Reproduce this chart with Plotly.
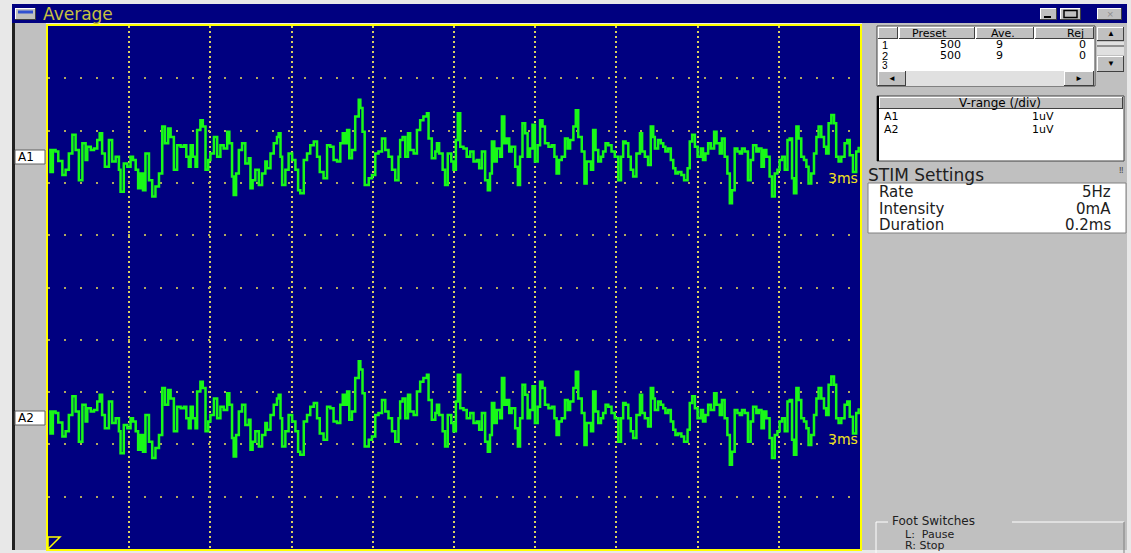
import plotly.graph_objects as go

# Sweep: 10 divisions of 3 ms, 1 uV/div, two averaged channels
t_ms = [
    0.04, 0.09, 0.18, 0.28, 0.38, 0.53, 0.65, 0.77, 0.90, 1.02, 1.14, 1.27, 1.39, 1.45, 1.58, 1.70,
    1.82, 1.91, 2.00, 2.10, 2.25, 2.37, 2.50, 2.62, 2.68, 2.80, 2.93, 3.05, 3.14, 3.24, 3.33, 3.42,
    3.51, 3.60, 3.73, 3.85, 3.97, 4.10, 4.22, 4.32, 4.44, 4.53, 4.65, 4.77, 4.90, 5.02, 5.11, 5.20,
    5.27, 5.35, 5.45, 5.51, 5.63, 5.72, 5.82, 5.92, 6.00, 6.13, 6.25, 6.37, 6.49, 6.62, 6.70, 6.80,
    6.86, 6.95, 7.05, 7.17, 7.29, 7.42, 7.48, 7.56, 7.66, 7.79, 7.91, 8.03, 8.09, 8.22, 8.34, 8.46,
    8.52, 8.59, 8.65, 8.77, 8.89, 9.02, 9.14, 9.24, 9.32, 9.45, 9.57, 9.69, 9.82, 9.94,
    10.04, 10.18, 10.31, 10.43, 10.55, 10.68, 10.80, 10.89, 10.96, 11.05, 11.13, 11.23, 11.35, 11.48,
    11.54, 11.62, 11.70, 11.85, 11.97, 12.09, 12.21, 12.34, 12.46, 12.58, 12.71, 12.83, 12.95, 13.01,
    13.10, 13.20, 13.30, 13.38, 13.51, 13.63, 13.75, 13.87, 14.00, 14.06, 14.18, 14.31, 14.37, 14.45,
    14.58, 14.67, 14.77, 14.90, 14.98, 15.07, 15.14, 15.23, 15.35, 15.47, 15.60, 15.72, 15.84, 15.93,
    16.03, 16.15, 16.25, 16.33, 16.40, 16.49, 16.58, 16.70, 16.77, 16.86, 16.95, 17.04, 17.13, 17.26,
    17.36, 17.44, 17.53, 17.63, 17.72, 17.81, 17.90, 17.99, 18.09, 18.18, 18.27, 18.36, 18.49, 18.61,
    18.71, 18.79, 18.88, 18.98, 19.10, 19.20, 19.29, 19.41, 19.50, 19.59, 19.72, 19.82, 19.90,
    20.06, 20.14, 20.23, 20.33, 20.43, 20.51, 20.60, 20.70, 20.82, 20.94, 21.07, 21.17, 21.25, 21.34,
    21.44, 21.53, 21.62, 21.74, 21.87, 21.95, 22.05, 22.17, 22.27, 22.36, 22.42, 22.54, 22.64, 22.73,
    22.81, 22.91, 23.01, 23.10, 23.18, 23.28, 23.40, 23.50, 23.63, 23.71, 23.80, 23.90, 24.00, 24.12,
    24.20, 24.29, 24.39, 24.49, 24.61, 24.70, 24.82, 24.90, 25.00, 25.10, 25.19, 25.27, 25.37, 25.47,
    25.56, 25.64, 25.74, 25.86, 25.96, 26.05, 26.17, 26.26, 26.36, 26.45, 26.54, 26.66, 26.75, 26.85,
    26.95, 27.03, 27.12, 27.22, 27.32, 27.40, 27.49, 27.56, 27.65, 27.73, 27.83, 27.93, 28.02, 28.10,
    28.20, 28.30, 28.39, 28.47, 28.57, 28.67, 28.75, 28.84, 28.94, 29.04, 29.12, 29.21, 29.31, 29.43,
    29.53, 29.62, 29.74, 29.86, 29.95,
]

a1_uv = [
    0.13, -0.29, 0.13, 0.10, -0.08, -0.35, -0.25, 0.06, 0.42, 0.13, -0.45, 0.26, -0.06, 0.19, 0.13, 0.16,
    0.32, 0.45, 0.06, -0.19, 0.32, -0.09, 0.00, -0.25, -0.67, -0.13, -0.19, 0.00, -0.06, -0.25, -0.60, -0.32,
    -0.64, 0.06, -0.45, -0.76, -0.57, -0.32, 0.58, 0.26, 0.54, 0.38, -0.25, 0.22, 0.19, 0.22, 0.00, -0.19,
    0.22, 0.00, -0.19, 0.51, 0.70, 0.58, -0.25, -0.06, 0.06, 0.38, 0.00, 0.22, 0.16, 0.48, 0.26, -0.38,
    -0.73, -0.32, 0.13, 0.26, -0.13, -0.03, -0.60, -0.45, -0.25, -0.54, -0.32, -0.09, -0.22, 0.06, 0.26, 0.38,
    0.45, 0.00, -0.54, -0.25, 0.06, -0.06, -0.25, -0.64, -0.70, -0.06, 0.06, 0.22, 0.29, 0.00,
    -0.29, -0.41, 0.22, 0.19, -0.06, -0.09, 0.26, 0.45, 0.26, 0.51, -0.03, 0.13, 0.77, 1.09,
    0.93, 0.48, -0.54, -0.41, -0.35, 0.06, 0.10, 0.35, 0.13, 0.00, -0.25, -0.45, 0.00, 0.32,
    0.38, 0.00, 0.45, 0.13, 0.06, 0.51, 0.70, 0.77, 0.83, 0.35, -0.03, 0.10, 0.26, 0.06,
    -0.25, -0.54, 0.06, -0.09, -0.25, 0.32, 0.83, 0.19, 0.16, 0.00, 0.10, -0.09, -0.06, -0.22,
    0.10, -0.45, -0.64, -0.32, 0.29, -0.09, 0.16, 0.00, 0.77, 0.26, 0.35, 0.10, 0.19, -0.19,
    -0.54, 0.00, 0.64, 0.45, 0.00, 0.16, 0.61, -0.09, 0.22, 0.70, 0.58, 0.26, 0.19, 0.22,
    0.00, -0.32, -0.06, 0.00, 0.35, 0.16, 0.32, 0.58, 0.89, 0.38, 0.10, -0.51, -0.09,
    -0.25, 0.51, 0.13, -0.09, 0.00, 0.10, 0.26, 0.22, 0.10, 0.00, -0.45, 0.00, 0.29, 0.26,
    0.00, -0.25, -0.38, 0.06, 0.45, 0.10, 0.00, -0.16, 0.58, 0.38, 0.16, 0.32, 0.26, 0.19,
    0.10, 0.16, -0.06, -0.22, -0.32, -0.29, -0.35, -0.45, -0.22, 0.29, 0.42, 0.19, 0.00, 0.16,
    -0.06, 0.06, 0.26, 0.16, 0.48, 0.26, 0.06, 0.35, 0.00, -0.32, -0.89, -0.64, 0.16, 0.10,
    0.06, 0.16, 0.10, -0.45, -0.06, 0.22, 0.10, 0.16, -0.19, 0.13, 0.00, -0.38, -0.76, -0.32,
    -0.25, -0.06, 0.00, -0.25, 0.32, 0.35, -0.41, -0.70, 0.58, 0.35, 0.00, -0.06, -0.19, -0.51,
    -0.32, 0.06, 0.38, 0.58, 0.38, 0.19, 0.06, 0.64, 0.80, 0.64, 0.00, -0.09, 0.00, 0.26,
    0.32, 0.03, -0.29, 0.10, 0.19,
]
# Both channels show the same averaged response
a2_uv = list(a1_uv)

channel_names = ["A1", "A2"]
channel_offsets = [0.0, -5.0]          # baselines, in divisions
sweep_label = "3ms"
preset_rows = [("1", "500", "9", "0"), ("2", "500", "9", "0")]
vrange_rows = [("A1", "1uV"), ("A2", "1uV")]
stim_rows = [("Rate", "5Hz"), ("Intensity", "0mA"), ("Duration", "0.2ms")]

W, H = 1131, 553
NAVY = "#000080"
GRAY = "#c0c0c0"
YELLOW = "#ffff00"
GREEN = "#18f818"
UI_FONT = "Liberation Sans"
WIDE_FONT = "DejaVu Sans"


def fx(x):
    return x / W


def fy(y):
    return 1 - y / H


shapes = []
annotations = []


def rect(x0, y0, x1, y1, fill, line=None, lw=0):
    shapes.append(dict(type="rect", xref="paper", yref="paper",
                       x0=fx(x0), x1=fx(x1), y0=fy(y1), y1=fy(y0),
                       fillcolor=fill, line=dict(color=line or fill, width=lw)))


def hline(x0, x1, y, color, lw=1):
    shapes.append(dict(type="line", xref="paper", yref="paper",
                       x0=fx(x0), x1=fx(x1), y0=fy(y), y1=fy(y),
                       line=dict(color=color, width=lw)))


def vline(x, y0, y1, color, lw=1):
    shapes.append(dict(type="line", xref="paper", yref="paper",
                       x0=fx(x), x1=fx(x), y0=fy(y0), y1=fy(y1),
                       line=dict(color=color, width=lw)))


def bevel(x0, y0, x1, y1, fill=GRAY):
    rect(x0, y0, x1, y1, fill)
    hline(x0, x1, y0 + 0.5, "#ffffff")
    vline(x0 + 0.5, y0, y1, "#ffffff")
    hline(x0, x1, y1 - 0.5, "#404040")
    vline(x1 - 0.5, y0, y1, "#404040")


def text(x, y, s, size=11, color="#000000", anchor="left", family=UI_FONT):
    annotations.append(dict(xref="paper", yref="paper", x=fx(x), y=fy(y), text=s,
                            showarrow=False, xanchor=anchor, yanchor="middle",
                            font=dict(family=family, size=size, color=color)))


# title bar
rect(12, 4, 1127, 23, NAVY)
bevel(15, 8, 36, 20)
hline(18, 33, 12, "#3050d0", 3)
text(41, 14, "Average", 17, "#c8c040", family=WIDE_FONT)
bevel(1040, 8, 1057, 20)
hline(1044, 1051, 17, "#000000", 2)
bevel(1060, 8, 1081, 20)
rect(1064, 10.5, 1077, 17.5, GRAY, "#000000", 1.5)
bevel(1097, 8, 1122, 20)
text(1109.5, 14, "×", 11, "#909090", "center")

# left channel strip
rect(12, 23, 46, 550, GRAY)
vline(13.5, 23, 550, "#202020", 3)
for name, (y0, y1) in zip(channel_names, [(150, 164), (411, 425)]):
    rect(15, y0, 45, y1, "#ffffff", "#606060", 1)
    text(16, (y0 + y1) / 2, name, 12, "#000000", family=WIDE_FONT)

# right side panel
rect(862, 23, 1127, 550, GRAY)

# preset / average table
rect(877, 26, 1095, 86, "#ffffff", "#404040", 1)
bevel(878, 27, 898, 39)
bevel(899, 27, 975, 39)
bevel(976, 27, 1034, 39)
bevel(1035, 27, 1094, 39)
text(929, 33, "Preset", 11, anchor="center", family=WIDE_FONT)
text(1003, 33, "Ave.", 11, anchor="center", family=WIDE_FONT)
text(1075, 33, "Rej", 11, anchor="center", family=WIDE_FONT)
for i, (n, p, a, r) in enumerate(preset_rows):
    y = 45 + 11 * i
    text(880, y, n, 11)
    text(963, y, p, 11, anchor="right", family=WIDE_FONT)
    text(1005, y, a, 11, anchor="right", family=WIDE_FONT)
    text(1088, y, r, 11, anchor="right", family=WIDE_FONT)
text(880, 66, "3", 10)
rect(878, 71, 1094, 86, "#e0e0e0")
bevel(878, 71, 906, 86)
text(892, 78.5, "◄", 8, anchor="center")
bevel(1064, 71, 1094, 86)
text(1079, 78.5, "►", 8, anchor="center")
# vertical scroll bar
bevel(1097, 27, 1124, 41)
text(1110.5, 34, "▲", 8, anchor="center")
rect(1097, 42, 1124, 55, "#e0e0e0")
hline(1097, 1124, 46, "#404040", 1)
bevel(1097, 56, 1124, 72)
text(1110.5, 64, "▼", 8, anchor="center")

# V-range box
rect(877, 96, 1124, 161, "#ffffff", "#404040", 1)
vline(878, 96, 161, "#000000", 2)
bevel(879, 97, 1123, 109)
text(1000, 103, "V-range (/div)", 12, anchor="center", family=WIDE_FONT)
for i, (ch, rng) in enumerate(vrange_rows):
    y = 117 + 12 * i
    text(882, y, ch, 11, family=WIDE_FONT)
    text(1030, y, rng, 11, family=WIDE_FONT)

# STIM settings
text(866, 175, "STIM Settings", 17, "#202020", family=WIDE_FONT)
text(1121, 170, "‼", 9, "#404040", anchor="center")
rect(868, 183, 1126, 233, "#ffffff", "#808080", 1)
for i, (k, v) in enumerate(stim_rows):
    y = 192 + 16.5 * i
    text(877, y, k, 15, "#202020", family=WIDE_FONT)
    text(1113, y, v, 15, "#202020", anchor="right", family=WIDE_FONT)

# foot switch group box
hline(876, 888, 522, "#ffffff", 1)
hline(1012, 1124, 522, "#ffffff", 1)
vline(876, 522, 553, "#ffffff", 1)
vline(1124, 522, 553, "#808080", 1)
text(890, 521, "Foot Switches", 12, "#202020", family=WIDE_FONT)
text(903, 534, "L:  Pause", 11, "#202020", family=WIDE_FONT)
text(903, 545, "R: Stop", 11, "#202020", family=WIDE_FONT)

# start-of-sweep marker in the trace window
shapes.append(dict(type="path", xref="paper", yref="paper",
                   path=f"M {fx(48)} {fy(537)} L {fx(60)} {fy(537)} L {fx(48)} {fy(549)} Z",
                   line=dict(color=YELLOW, width=1.5), fillcolor="rgba(0,0,0,0)"))

fig = go.Figure()
for name, vals, off in zip(channel_names, [a1_uv, a2_uv], channel_offsets):
    fig.add_trace(go.Scatter(
        x=t_ms, y=[v + off for v in vals], mode="lines", name=name,
        line=dict(color=GREEN, width=2.5, shape="hv"), hoverinfo="skip"))
    annotations.append(dict(x=30, y=off - 0.4, xref="x", yref="y", text=sweep_label,
                            showarrow=False, xanchor="right", yanchor="middle",
                            font=dict(family=WIDE_FONT, size=14, color="#f0e020")))

fig.update_layout(
    width=W, height=H,
    margin=dict(l=0, r=0, t=0, b=0),
    paper_bgcolor="#e8e8e8",
    plot_bgcolor=NAVY,
    showlegend=False,
    shapes=shapes,
    annotations=annotations,
    xaxis=dict(domain=[fx(48), fx(860)], range=[0, 30], tick0=0, dtick=3,
               showgrid=True, gridcolor="#d8d060", griddash="2px,3px", gridwidth=1.5,
               showticklabels=False, ticks="", zeroline=False,
               showline=True, linecolor=YELLOW, linewidth=2, mirror=True, fixedrange=True),
    yaxis=dict(domain=[fy(549), fy(26)], range=[-7.5, 2.5], tick0=0.5, dtick=1,
               showgrid=True, gridcolor="#b0a860", griddash="2px,14px", gridwidth=1.5,
               showticklabels=False, ticks="", zeroline=False,
               showline=True, linecolor=YELLOW, linewidth=2, mirror=True, fixedrange=True),
)

fig.write_html("out.html")
